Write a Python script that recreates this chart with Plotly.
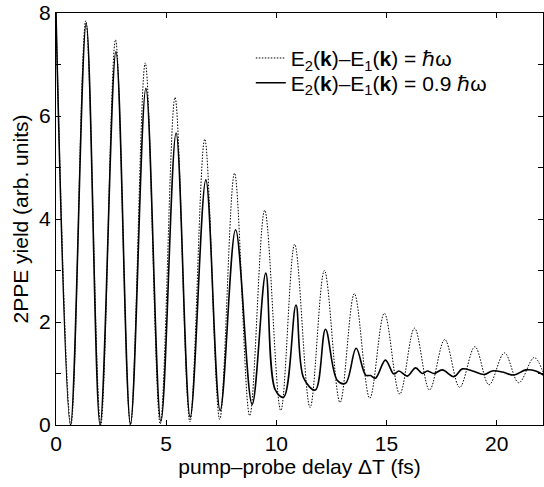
import plotly.graph_objects as go

# delay (fs) and yield (arb. units) at extrema / kinks
resonant_t = [0, 0.68, 1.35, 2.03, 2.7, 3.38, 4.05, 4.73, 5.4, 6.08, 6.75, 7.43,
              8.1, 8.79, 9.47, 10.2, 10.83, 11.53, 12.18, 12.89, 13.54, 14.24,
              14.9, 15.6, 16.27, 16.95, 17.64, 18.32, 19.01, 19.65, 20.35, 21.0,
              21.7, 22.15]
resonant_y = [8.0, 0.0, 7.85, 0.0, 7.48, 0.0, 7.03, 0.02, 6.36, 0.06, 5.55, 0.11,
              4.89, 0.18, 4.17, 0.28, 3.51, 0.34, 3.0, 0.44, 2.55, 0.52,
              2.17, 0.60, 1.88, 0.68, 1.66, 0.73, 1.52, 0.78, 1.40, 0.82,
              1.31, 0.97]

detuned_t = [0, 0.66, 1.37, 2.0, 2.72, 3.38, 4.08, 4.76, 5.45, 6.09, 6.8, 7.45,
             8.15, 8.9, 9.52, 9.95, 10.33, 10.89, 11.24, 11.77, 12.23, 12.76,
             13.14, 13.62, 14.05, 14.27, 14.5, 14.95, 15.33, 15.56, 15.94, 16.32,
             16.62, 16.85, 17.15, 17.53, 18.06, 18.44, 18.9, 19.42, 19.8, 20.26,
             20.78, 21.32, 21.77, 22.15]
detuned_y = [8.0, 0.0, 7.8, 0.0, 7.25, 0.02, 6.54, 0.07, 5.67, 0.15, 4.76, 0.28,
             3.79, 0.40, 2.95, 0.68, 0.54, 2.33, 0.91, 0.68, 1.86, 0.87,
             0.81, 1.49, 0.97, 0.96, 0.91, 1.26, 0.99, 1.05, 0.95, 1.11,
             1.0, 1.05, 1.0, 1.07, 0.94, 1.09, 1.05, 0.98, 1.05, 1.03,
             0.97, 1.07, 1.05, 0.96]

x_ticks = [0, 5, 10, 15, 20]
y_ticks = [0, 2, 4, 6, 8]

FONT = "Liberation Sans, Arial, sans-serif"

fig = go.Figure()
fig.add_trace(go.Scatter(
    x=resonant_t, y=resonant_y, mode="lines",
    line=dict(color="black", width=1, dash="1.5px,1.5px",
              shape="spline", smoothing=1),
    name="E<sub>2</sub>(<b>k</b>)–E<sub>1</sub>(<b>k</b>) = ℏω",
    legend="legend", showlegend=True,
))
fig.add_trace(go.Scatter(
    x=detuned_t, y=detuned_y, mode="lines",
    line=dict(color="black", width=1.6, shape="spline", smoothing=1),
    name="E<sub>2</sub>(<b>k</b>)–E<sub>1</sub>(<b>k</b>) = 0.9 ℏω",
    legend="legend2", showlegend=True,
))

axis_style = dict(
    showline=True, linecolor="black", linewidth=1, mirror="allticks",
    ticks="inside", ticklen=5, tickcolor="black", showgrid=False,
    zeroline=False, automargin=False,
    tickfont=dict(size=21, color="black"),
)
fig.update_xaxes(
    range=[0, 22.1], tickvals=x_ticks,
    title=dict(text="pump–probe delay ΔT (fs)", font=dict(size=21), standoff=2),
    **axis_style,
)
fig.update_yaxes(
    range=[0, 8], tickvals=y_ticks,
    minor=dict(dtick=1, ticks="inside", ticklen=5, tickcolor="black"),
    title=dict(text="2PPE yield (arb. units)", font=dict(size=21), standoff=4),
    **axis_style,
)
leg = dict(x=0.40, xanchor="left", yanchor="middle", visible=True,
           bgcolor="rgba(0,0,0,0)", font=dict(size=21))
fig.update_layout(
    width=544, height=487,
    margin=dict(l=56, r=1, t=13, b=62),
    plot_bgcolor="white", paper_bgcolor="white",
    font=dict(family=FONT, color="black"),
    showlegend=True,
    legend=dict(y=0.89, **leg),
    legend2=dict(y=0.83, **leg),
)
# the page has a default 8px body margin; drop it so the figure fills the window
fig.write_html("out.html", config={"displayModeBar": False},
               post_script="document.body.style.margin='0';")
